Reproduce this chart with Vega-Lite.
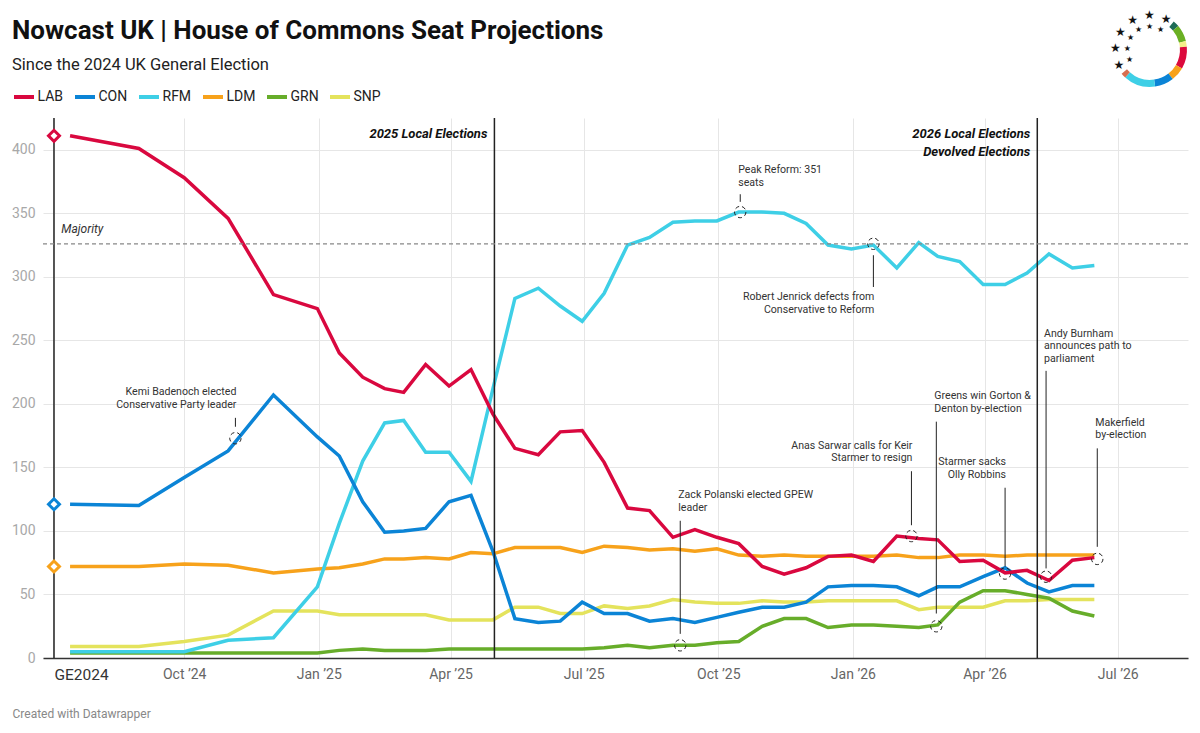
{
  "$schema": "https://vega.github.io/schema/vega-lite/v6.json",
  "width": 1145,
  "height": 540,
  "autosize": {"type": "none"},
  "padding": {"left": 43, "top": 118, "right": 12, "bottom": 75},
  "background": "#ffffff",
  "config": {"font": "Roboto", "view": {"stroke": null}},
  "title": {
    "text": "Nowcast UK | House of Commons Seat Projections",
    "subtitle": "Since the 2024 UK General Election",
    "anchor": "start",
    "frame": "group",
    "dx": -31,
    "offset": -64,
    "font": "Roboto",
    "fontSize": 26,
    "fontWeight": "bold",
    "color": "#111111",
    "subtitleFont": "Roboto",
    "subtitleFontSize": 16.5,
    "subtitleColor": "#222222",
    "subtitlePadding": 13
  },
  "resolve": {"scale": {"theta": "independent"}},
  "datasets": {
    "seats": [
      {"date":"2024-07-15","party":"SNP","seats":9},{"date":"2024-08-31","party":"SNP","seats":9},{"date":"2024-10-01","party":"SNP","seats":13},{"date":"2024-10-31","party":"SNP","seats":18},{"date":"2024-12-01","party":"SNP","seats":37},{"date":"2024-12-31","party":"SNP","seats":37},{"date":"2025-01-15","party":"SNP","seats":34},{"date":"2025-01-31","party":"SNP","seats":34},{"date":"2025-02-15","party":"SNP","seats":34},{"date":"2025-02-28","party":"SNP","seats":34},{"date":"2025-03-15","party":"SNP","seats":34},{"date":"2025-03-31","party":"SNP","seats":30},{"date":"2025-04-15","party":"SNP","seats":30},{"date":"2025-04-30","party":"SNP","seats":30},{"date":"2025-05-15","party":"SNP","seats":40},{"date":"2025-05-31","party":"SNP","seats":40},{"date":"2025-06-15","party":"SNP","seats":35},{"date":"2025-06-30","party":"SNP","seats":35},{"date":"2025-07-15","party":"SNP","seats":41},{"date":"2025-07-31","party":"SNP","seats":39},{"date":"2025-08-15","party":"SNP","seats":41},{"date":"2025-08-31","party":"SNP","seats":46},{"date":"2025-09-15","party":"SNP","seats":44},{"date":"2025-09-30","party":"SNP","seats":43},{"date":"2025-10-15","party":"SNP","seats":43},{"date":"2025-10-31","party":"SNP","seats":45},{"date":"2025-11-15","party":"SNP","seats":44},{"date":"2025-11-30","party":"SNP","seats":44},{"date":"2025-12-15","party":"SNP","seats":45},{"date":"2025-12-31","party":"SNP","seats":45},{"date":"2026-01-15","party":"SNP","seats":45},{"date":"2026-01-31","party":"SNP","seats":45},{"date":"2026-02-15","party":"SNP","seats":38},{"date":"2026-02-28","party":"SNP","seats":40},{"date":"2026-03-15","party":"SNP","seats":40},{"date":"2026-03-31","party":"SNP","seats":40},{"date":"2026-04-15","party":"SNP","seats":45},{"date":"2026-04-30","party":"SNP","seats":45},{"date":"2026-05-15","party":"SNP","seats":46},{"date":"2026-05-31","party":"SNP","seats":46},{"date":"2026-06-15","party":"SNP","seats":46},
      {"date":"2024-07-15","party":"GRN","seats":4},{"date":"2024-08-31","party":"GRN","seats":4},{"date":"2024-10-01","party":"GRN","seats":4},{"date":"2024-10-31","party":"GRN","seats":4},{"date":"2024-12-01","party":"GRN","seats":4},{"date":"2024-12-31","party":"GRN","seats":4},{"date":"2025-01-15","party":"GRN","seats":6},{"date":"2025-01-31","party":"GRN","seats":7},{"date":"2025-02-15","party":"GRN","seats":6},{"date":"2025-02-28","party":"GRN","seats":6},{"date":"2025-03-15","party":"GRN","seats":6},{"date":"2025-03-31","party":"GRN","seats":7},{"date":"2025-04-15","party":"GRN","seats":7},{"date":"2025-04-30","party":"GRN","seats":7},{"date":"2025-05-15","party":"GRN","seats":7},{"date":"2025-05-31","party":"GRN","seats":7},{"date":"2025-06-15","party":"GRN","seats":7},{"date":"2025-06-30","party":"GRN","seats":7},{"date":"2025-07-15","party":"GRN","seats":8},{"date":"2025-07-31","party":"GRN","seats":10},{"date":"2025-08-15","party":"GRN","seats":8},{"date":"2025-08-31","party":"GRN","seats":10},{"date":"2025-09-15","party":"GRN","seats":10},{"date":"2025-09-30","party":"GRN","seats":12},{"date":"2025-10-15","party":"GRN","seats":13},{"date":"2025-10-31","party":"GRN","seats":25},{"date":"2025-11-15","party":"GRN","seats":31},{"date":"2025-11-30","party":"GRN","seats":31},{"date":"2025-12-15","party":"GRN","seats":24},{"date":"2025-12-31","party":"GRN","seats":26},{"date":"2026-01-15","party":"GRN","seats":26},{"date":"2026-01-31","party":"GRN","seats":25},{"date":"2026-02-15","party":"GRN","seats":24},{"date":"2026-02-28","party":"GRN","seats":26},{"date":"2026-03-15","party":"GRN","seats":44},{"date":"2026-03-31","party":"GRN","seats":53},{"date":"2026-04-15","party":"GRN","seats":53},{"date":"2026-04-30","party":"GRN","seats":50},{"date":"2026-05-15","party":"GRN","seats":47},{"date":"2026-05-31","party":"GRN","seats":37},{"date":"2026-06-15","party":"GRN","seats":33},
      {"date":"2024-07-15","party":"LDM","seats":72},{"date":"2024-08-31","party":"LDM","seats":72},{"date":"2024-10-01","party":"LDM","seats":74},{"date":"2024-10-31","party":"LDM","seats":73},{"date":"2024-12-01","party":"LDM","seats":67},{"date":"2024-12-31","party":"LDM","seats":70},{"date":"2025-01-15","party":"LDM","seats":71},{"date":"2025-01-31","party":"LDM","seats":74},{"date":"2025-02-15","party":"LDM","seats":78},{"date":"2025-02-28","party":"LDM","seats":78},{"date":"2025-03-15","party":"LDM","seats":79},{"date":"2025-03-31","party":"LDM","seats":78},{"date":"2025-04-15","party":"LDM","seats":83},{"date":"2025-04-30","party":"LDM","seats":82},{"date":"2025-05-15","party":"LDM","seats":87},{"date":"2025-05-31","party":"LDM","seats":87},{"date":"2025-06-15","party":"LDM","seats":87},{"date":"2025-06-30","party":"LDM","seats":83},{"date":"2025-07-15","party":"LDM","seats":88},{"date":"2025-07-31","party":"LDM","seats":87},{"date":"2025-08-15","party":"LDM","seats":85},{"date":"2025-08-31","party":"LDM","seats":86},{"date":"2025-09-15","party":"LDM","seats":84},{"date":"2025-09-30","party":"LDM","seats":86},{"date":"2025-10-15","party":"LDM","seats":81},{"date":"2025-10-31","party":"LDM","seats":80},{"date":"2025-11-15","party":"LDM","seats":81},{"date":"2025-11-30","party":"LDM","seats":80},{"date":"2025-12-15","party":"LDM","seats":80},{"date":"2025-12-31","party":"LDM","seats":80},{"date":"2026-01-15","party":"LDM","seats":80},{"date":"2026-01-31","party":"LDM","seats":81},{"date":"2026-02-15","party":"LDM","seats":79},{"date":"2026-02-28","party":"LDM","seats":79},{"date":"2026-03-15","party":"LDM","seats":81},{"date":"2026-03-31","party":"LDM","seats":81},{"date":"2026-04-15","party":"LDM","seats":80},{"date":"2026-04-30","party":"LDM","seats":81},{"date":"2026-05-15","party":"LDM","seats":81},{"date":"2026-05-31","party":"LDM","seats":81},{"date":"2026-06-15","party":"LDM","seats":81},
      {"date":"2024-07-15","party":"RFM","seats":5},{"date":"2024-08-31","party":"RFM","seats":5},{"date":"2024-10-01","party":"RFM","seats":5},{"date":"2024-10-31","party":"RFM","seats":14},{"date":"2024-12-01","party":"RFM","seats":16},{"date":"2024-12-31","party":"RFM","seats":56},{"date":"2025-01-15","party":"RFM","seats":106},{"date":"2025-01-31","party":"RFM","seats":155},{"date":"2025-02-15","party":"RFM","seats":185},{"date":"2025-02-28","party":"RFM","seats":187},{"date":"2025-03-15","party":"RFM","seats":162},{"date":"2025-03-31","party":"RFM","seats":162},{"date":"2025-04-15","party":"RFM","seats":139},{"date":"2025-04-30","party":"RFM","seats":212},{"date":"2025-05-15","party":"RFM","seats":283},{"date":"2025-05-31","party":"RFM","seats":291},{"date":"2025-06-15","party":"RFM","seats":277},{"date":"2025-06-30","party":"RFM","seats":265},{"date":"2025-07-15","party":"RFM","seats":287},{"date":"2025-07-31","party":"RFM","seats":325},{"date":"2025-08-15","party":"RFM","seats":331},{"date":"2025-08-31","party":"RFM","seats":343},{"date":"2025-09-15","party":"RFM","seats":344},{"date":"2025-09-30","party":"RFM","seats":344},{"date":"2025-10-15","party":"RFM","seats":351},{"date":"2025-10-31","party":"RFM","seats":351},{"date":"2025-11-15","party":"RFM","seats":350},{"date":"2025-11-30","party":"RFM","seats":342},{"date":"2025-12-15","party":"RFM","seats":325},{"date":"2025-12-31","party":"RFM","seats":322},{"date":"2026-01-15","party":"RFM","seats":325},{"date":"2026-01-31","party":"RFM","seats":307},{"date":"2026-02-15","party":"RFM","seats":327},{"date":"2026-02-28","party":"RFM","seats":316},{"date":"2026-03-15","party":"RFM","seats":312},{"date":"2026-03-31","party":"RFM","seats":294},{"date":"2026-04-15","party":"RFM","seats":294},{"date":"2026-04-30","party":"RFM","seats":303},{"date":"2026-05-15","party":"RFM","seats":318},{"date":"2026-05-31","party":"RFM","seats":307},{"date":"2026-06-15","party":"RFM","seats":309},
      {"date":"2024-07-15","party":"CON","seats":121},{"date":"2024-08-31","party":"CON","seats":120},{"date":"2024-10-01","party":"CON","seats":142},{"date":"2024-10-31","party":"CON","seats":163},{"date":"2024-12-01","party":"CON","seats":207},{"date":"2024-12-31","party":"CON","seats":174},{"date":"2025-01-15","party":"CON","seats":159},{"date":"2025-01-31","party":"CON","seats":123},{"date":"2025-02-15","party":"CON","seats":99},{"date":"2025-02-28","party":"CON","seats":100},{"date":"2025-03-15","party":"CON","seats":102},{"date":"2025-03-31","party":"CON","seats":123},{"date":"2025-04-15","party":"CON","seats":128},{"date":"2025-04-30","party":"CON","seats":84},{"date":"2025-05-15","party":"CON","seats":31},{"date":"2025-05-31","party":"CON","seats":28},{"date":"2025-06-15","party":"CON","seats":29},{"date":"2025-06-30","party":"CON","seats":44},{"date":"2025-07-15","party":"CON","seats":35},{"date":"2025-07-31","party":"CON","seats":35},{"date":"2025-08-15","party":"CON","seats":29},{"date":"2025-08-31","party":"CON","seats":31},{"date":"2025-09-15","party":"CON","seats":28},{"date":"2025-09-30","party":"CON","seats":32},{"date":"2025-10-15","party":"CON","seats":36},{"date":"2025-10-31","party":"CON","seats":40},{"date":"2025-11-15","party":"CON","seats":40},{"date":"2025-11-30","party":"CON","seats":44},{"date":"2025-12-15","party":"CON","seats":56},{"date":"2025-12-31","party":"CON","seats":57},{"date":"2026-01-15","party":"CON","seats":57},{"date":"2026-01-31","party":"CON","seats":56},{"date":"2026-02-15","party":"CON","seats":49},{"date":"2026-02-28","party":"CON","seats":56},{"date":"2026-03-15","party":"CON","seats":56},{"date":"2026-03-31","party":"CON","seats":64},{"date":"2026-04-15","party":"CON","seats":71},{"date":"2026-04-30","party":"CON","seats":59},{"date":"2026-05-15","party":"CON","seats":52},{"date":"2026-05-31","party":"CON","seats":57},{"date":"2026-06-15","party":"CON","seats":57},
      {"date":"2024-07-15","party":"LAB","seats":411},{"date":"2024-08-31","party":"LAB","seats":401},{"date":"2024-10-01","party":"LAB","seats":378},{"date":"2024-10-31","party":"LAB","seats":346},{"date":"2024-12-01","party":"LAB","seats":286},{"date":"2024-12-31","party":"LAB","seats":275},{"date":"2025-01-15","party":"LAB","seats":240},{"date":"2025-01-31","party":"LAB","seats":221},{"date":"2025-02-15","party":"LAB","seats":212},{"date":"2025-02-28","party":"LAB","seats":209},{"date":"2025-03-15","party":"LAB","seats":231},{"date":"2025-03-31","party":"LAB","seats":214},{"date":"2025-04-15","party":"LAB","seats":227},{"date":"2025-04-30","party":"LAB","seats":192},{"date":"2025-05-15","party":"LAB","seats":165},{"date":"2025-05-31","party":"LAB","seats":160},{"date":"2025-06-15","party":"LAB","seats":178},{"date":"2025-06-30","party":"LAB","seats":179},{"date":"2025-07-15","party":"LAB","seats":154},{"date":"2025-07-31","party":"LAB","seats":118},{"date":"2025-08-15","party":"LAB","seats":116},{"date":"2025-08-31","party":"LAB","seats":95},{"date":"2025-09-15","party":"LAB","seats":101},{"date":"2025-09-30","party":"LAB","seats":95},{"date":"2025-10-15","party":"LAB","seats":90},{"date":"2025-10-31","party":"LAB","seats":72},{"date":"2025-11-15","party":"LAB","seats":66},{"date":"2025-11-30","party":"LAB","seats":71},{"date":"2025-12-15","party":"LAB","seats":80},{"date":"2025-12-31","party":"LAB","seats":81},{"date":"2026-01-15","party":"LAB","seats":76},{"date":"2026-01-31","party":"LAB","seats":96},{"date":"2026-02-15","party":"LAB","seats":94},{"date":"2026-02-28","party":"LAB","seats":93},{"date":"2026-03-15","party":"LAB","seats":76},{"date":"2026-03-31","party":"LAB","seats":77},{"date":"2026-04-15","party":"LAB","seats":67},{"date":"2026-04-30","party":"LAB","seats":69},{"date":"2026-05-15","party":"LAB","seats":61},{"date":"2026-05-31","party":"LAB","seats":77},{"date":"2026-06-15","party":"LAB","seats":79}
    ],
    "ge2024": [
      {"date":"2024-07-04","party":"LAB","seats":411},
      {"date":"2024-07-04","party":"CON","seats":121},
      {"date":"2024-07-04","party":"LDM","seats":72}
    ],
    "events": [
      {"date":"2024-07-04","label":[]},
      {"date":"2025-05-01","label":["2025 Local Elections"]},
      {"date":"2026-05-07","label":["2026 Local Elections","Devolved Elections"]}
    ],
    "majority": [{"date":"2024-07-09","seats":326,"label":"Majority"}],
    "notesLeft": [
      {"date":"2025-10-16","seats":351,"top":365,"bottom":359,"labelSeats":388,"text":["Peak Reform: 351","seats"]},
      {"date":"2025-09-05","seats":10,"top":108,"bottom":19,"labelSeats":132,"text":["Zack Polanski elected GPEW","leader"]},
      {"date":"2026-02-27","seats":25,"top":186,"bottom":35,"labelSeats":210,"text":["Greens win Gorton &","Denton by-election"]},
      {"date":"2026-05-13","seats":64,"top":226,"bottom":70.5,"labelSeats":259,"text":["Andy Burnham","announces path to","parliament"]},
      {"date":"2026-06-17","seats":78,"top":165,"bottom":87.5,"labelSeats":189,"text":["Makerfield","by-election"]}
    ],
    "notesRight": [
      {"date":"2024-11-05","seats":173,"top":189,"bottom":182,"labelSeats":213,"text":["Kemi Badenoch elected","Conservative Party leader"]},
      {"date":"2026-01-15","seats":326,"top":317,"bottom":292,"labelSeats":288,"text":["Robert Jenrick defects from","Conservative to Reform"]},
      {"date":"2026-02-10","seats":96,"top":147,"bottom":104.5,"labelSeats":171,"text":["Anas Sarwar calls for Keir","Starmer to resign"]},
      {"date":"2026-04-15","seats":66.5,"top":134,"bottom":72,"labelSeats":158,"text":["Starmer sacks","Olly Robbins"]}
    ],
    "logoRing": [
      {"seg":1,"segment":"ALL","share":10},
      {"seg":2,"segment":"GRN","share":26},
      {"seg":3,"segment":"SNP","share":9},
      {"seg":4,"segment":"LAB","share":35},
      {"seg":5,"segment":"LDM","share":22},
      {"seg":6,"segment":"CON","share":30},
      {"seg":7,"segment":"RFM","share":50},
      {"seg":8,"segment":"OTH","share":8}
    ],
    "logoStars": [{"star":1},{"star":2},{"star":3},{"star":4},{"star":5},{"star":6}]
  },
  "layer": [
    {
      "data": {"name": "seats"},
      "mark": {"type": "line", "strokeWidth": 3.5},
      "encoding": {
        "x": {
          "field": "date", "type": "temporal",
          "scale": {"domain": [{"year": 2024, "month": 6, "date": 26, "hours": 12}, {"year": 2026, "month": 8, "date": 18}], "nice": false},
          "axis": {
            "values": [
              {"year": 2024, "month": 7, "date": 4}, {"year": 2024, "month": 10, "date": 1},
              {"year": 2025, "month": 1, "date": 1}, {"year": 2025, "month": 4, "date": 1},
              {"year": 2025, "month": 7, "date": 1}, {"year": 2025, "month": 10, "date": 1},
              {"year": 2026, "month": 1, "date": 1}, {"year": 2026, "month": 4, "date": 1},
              {"year": 2026, "month": 7, "date": 1}
            ],
            "labelExpr": "datum.value < datetime(2024, 7, 1) ? 'GE2024' : timeFormat(datum.value, '%b ’%y')",
            "labelFont": "Roboto",
            "labelFontSize": {"condition": {"test": "datum.value < datetime(2024, 7, 1)", "value": 15.5}, "value": 14},
            "labelColor": {"condition": {"test": "datum.value < datetime(2024, 7, 1)", "value": "#333333"}, "value": "#666666"},
            "labelAlign": {"condition": {"test": "datum.value < datetime(2024, 7, 1)", "value": "left"}, "value": "center"},
            "labelPadding": 9,
            "labelFlush": false,
            "labelOverlap": false,
            "labelBound": false,
            "ticks": false,
            "domainColor": "#333333",
            "domainWidth": 1.5,
            "grid": true,
            "gridColor": "#e6e6e6",
            "title": "Created with Datawrapper",
            "titleFont": "Roboto",
            "titleFontSize": 12,
            "titleFontWeight": "normal",
            "titleColor": "#888888",
            "titleAlign": "left",
            "titleBaseline": "middle",
            "titleX": -31,
            "titleY": 55
          }
        },
        "y": {
          "field": "seats", "type": "quantitative",
          "scale": {"domain": [0, 425], "nice": false},
          "axis": {
            "values": [0, 50, 100, 150, 200, 250, 300, 350, 400],
            "title": null,
            "domain": false,
            "ticks": false,
            "labelPadding": 8,
            "labelFont": "Roboto",
            "labelFontSize": 14,
            "labelColor": "#a8a8a8",
            "gridColor": "#e6e6e6"
          }
        },
        "color": {
          "field": "party", "type": "nominal",
          "scale": {
            "domain": ["LAB", "CON", "RFM", "LDM", "GRN", "SNP"],
            "range": ["#d9083f", "#0b84d6", "#3ecfe6", "#f7a21b", "#67ad2a", "#e4e35c"]
          },
          "legend": {
            "orient": "none",
            "legendX": -31,
            "legendY": -33,
            "direction": "horizontal",
            "title": null,
            "symbolType": "stroke",
            "symbolStrokeWidth": 4,
            "symbolSize": 400,
            "labelFont": "Roboto",
            "labelFontSize": 14,
            "labelColor": "#222222",
            "labelOffset": 1.5,
            "columnPadding": 3
          }
        }
      }
    },
    {
      "data": {"name": "events"},
      "mark": {"type": "rule", "color": "#222222", "strokeWidth": 1.5},
      "encoding": {
        "x": {"field": "date", "type": "temporal", "scale": {"domain": [{"year": 2024, "month": 6, "date": 26, "hours": 12}, {"year": 2026, "month": 8, "date": 18}], "nice": false}}
      }
    },
    {
      "data": {"name": "events"},
      "mark": {"type": "text", "align": "right", "baseline": "top", "dx": -7, "font": "Roboto", "fontSize": 13, "fontWeight": "bold", "fontStyle": "italic", "lineHeight": 17.7, "color": "#111111"},
      "encoding": {
        "x": {"field": "date", "type": "temporal", "scale": {"domain": [{"year": 2024, "month": 6, "date": 26, "hours": 12}, {"year": 2026, "month": 8, "date": 18}], "nice": false}},
        "y": {"datum": 417, "type": "quantitative", "scale": {"domain": [0, 425], "nice": false}},
        "text": {"field": "label"}
      }
    },
    {
      "data": {"name": "majority"},
      "mark": {"type": "rule", "color": "#888888", "strokeWidth": 1.2, "strokeDash": [4, 3]},
      "encoding": {
        "y": {"field": "seats", "type": "quantitative", "scale": {"domain": [0, 425], "nice": false}}
      }
    },
    {
      "data": {"name": "majority"},
      "mark": {"type": "text", "align": "left", "baseline": "bottom", "dy": -8, "font": "Roboto", "fontSize": 12, "fontStyle": "italic", "color": "#333333"},
      "encoding": {
        "x": {"field": "date", "type": "temporal", "scale": {"domain": [{"year": 2024, "month": 6, "date": 26, "hours": 12}, {"year": 2026, "month": 8, "date": 18}], "nice": false}},
        "y": {"field": "seats", "type": "quantitative", "scale": {"domain": [0, 425], "nice": false}},
        "text": {"field": "label"}
      }
    },
    {
      "data": {"name": "ge2024"},
      "mark": {"type": "point", "shape": "diamond", "size": 120, "filled": true, "fill": "#ffffff", "strokeWidth": 3, "opacity": 1},
      "encoding": {
        "x": {"field": "date", "type": "temporal", "scale": {"domain": [{"year": 2024, "month": 6, "date": 26, "hours": 12}, {"year": 2026, "month": 8, "date": 18}], "nice": false}},
        "y": {"field": "seats", "type": "quantitative", "scale": {"domain": [0, 425], "nice": false}},
        "stroke": {
          "field": "party", "type": "nominal", "legend": null,
          "scale": {"domain": ["LAB", "CON", "RFM", "LDM", "GRN", "SNP"], "range": ["#d9083f", "#0b84d6", "#3ecfe6", "#f7a21b", "#67ad2a", "#e4e35c"]}
        }
      }
    },
    {
      "data": {"name": "notesLeft"},
      "encoding": {
        "x": {"field": "date", "type": "temporal", "scale": {"domain": [{"year": 2024, "month": 6, "date": 26, "hours": 12}, {"year": 2026, "month": 8, "date": 18}], "nice": false}}
      },
      "layer": [
        {
          "mark": {"type": "point", "shape": "circle", "size": 130, "filled": false, "color": "#222222", "strokeWidth": 1, "strokeDash": [4, 3], "opacity": 1},
          "encoding": {"y": {"field": "seats", "type": "quantitative", "scale": {"domain": [0, 425], "nice": false}}}
        },
        {
          "mark": {"type": "rule", "color": "#222222", "strokeWidth": 1},
          "encoding": {
            "y": {"field": "top", "type": "quantitative", "scale": {"domain": [0, 425], "nice": false}},
            "y2": {"field": "bottom"}
          }
        },
        {
          "mark": {"type": "text", "align": "left", "baseline": "top", "dx": -2, "font": "Roboto", "fontSize": 10.6, "lineHeight": 12.5, "color": "#333333"},
          "encoding": {
            "y": {"field": "labelSeats", "type": "quantitative", "scale": {"domain": [0, 425], "nice": false}},
            "text": {"field": "text"}
          }
        }
      ]
    },
    {
      "data": {"name": "notesRight"},
      "encoding": {
        "x": {"field": "date", "type": "temporal", "scale": {"domain": [{"year": 2024, "month": 6, "date": 26, "hours": 12}, {"year": 2026, "month": 8, "date": 18}], "nice": false}}
      },
      "layer": [
        {
          "mark": {"type": "point", "shape": "circle", "size": 130, "filled": false, "color": "#222222", "strokeWidth": 1, "strokeDash": [4, 3], "opacity": 1},
          "encoding": {"y": {"field": "seats", "type": "quantitative", "scale": {"domain": [0, 425], "nice": false}}}
        },
        {
          "mark": {"type": "rule", "color": "#222222", "strokeWidth": 1},
          "encoding": {
            "y": {"field": "top", "type": "quantitative", "scale": {"domain": [0, 425], "nice": false}},
            "y2": {"field": "bottom"}
          }
        },
        {
          "mark": {"type": "text", "align": "right", "baseline": "top", "dx": 1, "font": "Roboto", "fontSize": 10.6, "lineHeight": 12.5, "color": "#333333"},
          "encoding": {
            "y": {"field": "labelSeats", "type": "quantitative", "scale": {"domain": [0, 425], "nice": false}},
            "text": {"field": "text"}
          }
        }
      ]
    },
    {
      "data": {"name": "logoRing"},
      "mark": {"type": "arc", "radius": 37, "radius2": 30},
      "encoding": {
        "x": {"datum": {"year": 2026, "month": 7, "date": 23}, "type": "temporal", "scale": {"domain": [{"year": 2024, "month": 6, "date": 26, "hours": 12}, {"year": 2026, "month": 8, "date": 18}], "nice": false}},
        "y": {"datum": 478.6, "type": "quantitative", "scale": {"domain": [0, 425], "nice": false}},
        "theta": {"field": "share", "type": "quantitative", "scale": {"range": [0.698, 4.014]}},
        "order": {"field": "seg", "type": "quantitative"},
        "fill": {
          "field": "segment", "type": "nominal", "legend": null,
          "scale": {"domain": ["ALL", "GRN", "SNP", "LAB", "LDM", "CON", "RFM", "OTH"], "range": ["#1d6b56", "#6ab023", "#f4ef8a", "#dc0a3c", "#f7a21b", "#0b84d6", "#3ecfe6", "#d76e4f"]}
        }
      }
    },
    {
      "data": {"name": "logoStars"},
      "mark": {"type": "text", "text": "★", "radius": 34.7, "fontSize": 12, "align": "center", "baseline": "middle", "color": "#111111", "font": "DejaVu Sans"},
      "encoding": {
        "x": {"datum": {"year": 2026, "month": 7, "date": 23}, "type": "temporal", "scale": {"domain": [{"year": 2024, "month": 6, "date": 26, "hours": 12}, {"year": 2026, "month": 8, "date": 18}], "nice": false}},
        "y": {"datum": 478.6, "type": "quantitative", "scale": {"domain": [0, 425], "nice": false}},
        "theta": {"field": "star", "type": "quantitative", "stack": null, "scale": {"domain": [1, 6], "range": [4.25, 6.77]}}
      }
    },
    {
      "data": {"name": "logoStars"},
      "mark": {"type": "text", "text": "★", "radius": 22.7, "fontSize": 8, "align": "center", "baseline": "middle", "color": "#111111", "font": "DejaVu Sans"},
      "encoding": {
        "x": {"datum": {"year": 2026, "month": 7, "date": 23}, "type": "temporal", "scale": {"domain": [{"year": 2024, "month": 6, "date": 26, "hours": 12}, {"year": 2026, "month": 8, "date": 18}], "nice": false}},
        "y": {"datum": 478.6, "type": "quantitative", "scale": {"domain": [0, 425], "nice": false}},
        "theta": {"field": "star", "type": "quantitative", "stack": null, "scale": {"domain": [1, 6], "range": [4.25, 6.77]}}
      }
    }
  ]
}
